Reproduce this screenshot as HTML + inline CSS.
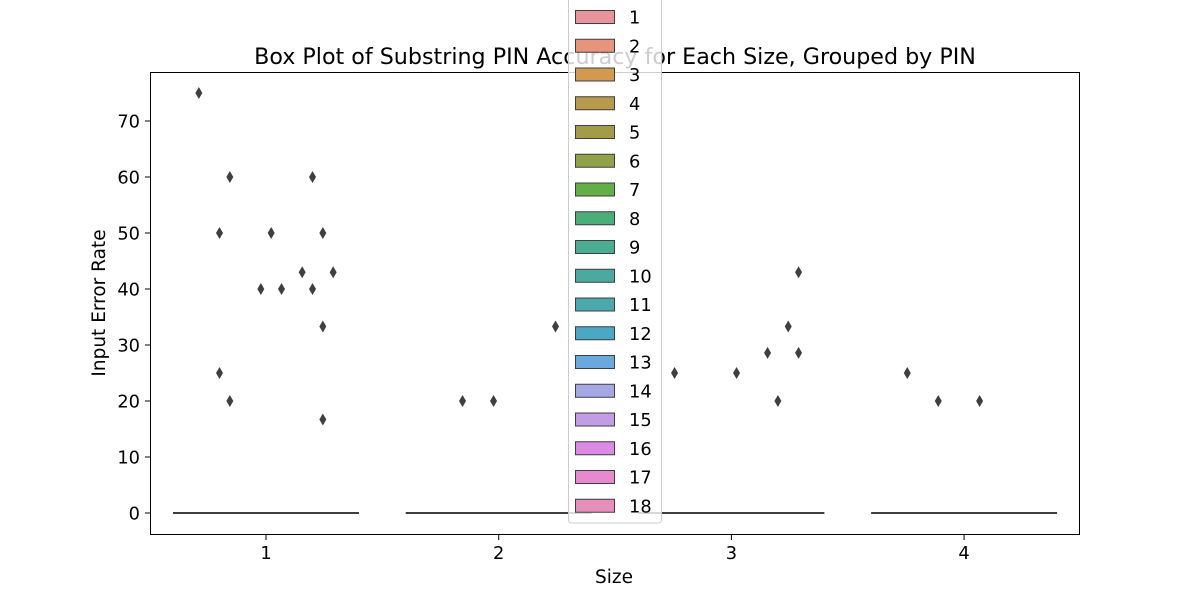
<!DOCTYPE html>
<html><head><meta charset="utf-8"><style>
body{margin:0;background:#fff;}
svg text{font-family:"DejaVu Sans","Liberation Sans",sans-serif;fill:#000;}
</style></head><body>
<svg id="chart" width="1200" height="600">
<rect width="1200" height="600" fill="#fff"/>
<text x="615" y="64" font-size="22.2" text-anchor="middle">Box Plot of Substring PIN Accuracy for Each Size, Grouped by PIN</text>
<g id="plot"></g>
<rect x="150.5" y="72.5" width="929" height="462" fill="none" stroke="#000" stroke-width="1"/>
<text x="614" y="583" font-size="18.5" text-anchor="middle">Size</text>
<text transform="translate(105,303) rotate(-90)" font-size="18.5" text-anchor="middle">Input Error Rate</text>
<g id="legend"></g>
</svg>
<script>
const categories=["1","2","3","4"];
const hues=["1","2","3","4","5","6","7","8","9","10","11","12","13","14","15","16","17","18"];
const hueColors=["#e9949d","#e8937c","#d39a4f","#b89a4c","#a29c48","#8fa347","#62ae47","#4aae78","#4aac91","#4aa9a0","#4ba9ad","#4ca7c4","#6aa9e0","#a4a9e6","#c39ce6","#dd8ae6","#e78acd","#e68fba"];
const yTicks=[0,10,20,30,40,50,60,70];
const boxMedian=[0,0,0,0];
// outliers: [categoryIndex, hueIndex, value]
const outCat=[0,0,0,0,0,0,0,0,0,0,0,0,0,0,0,1,1,1,2,2,2,2,2,2,2,3,3,3];
const outHue=[2,5,5,4,4,9,8,10,12,13,13,14,14,14,15,5,8,14,3,9,12,13,14,15,15,3,6,10];
const outVal=[75,60,20,50,25,50,40,40,43,60,40,50,33.3,16.7,43,20,20,33.3,25,25,28.6,20,33.3,43,28.6,25,20,20];

const NS="http://www.w3.org/2000/svg";
const plot=document.getElementById('plot');
const X0=266,XSTEP=232.7,Y0=513,YSCALE=5.6;
const xScale=i=>X0+i*XSTEP;
const yScale=v=>Y0-v*YSCALE;
const groupW=186,hueW=groupW/hues.length;
function mk(tag,attrs){const e=document.createElementNS(NS,tag);for(const k in attrs)e.setAttribute(k,attrs[k]);return e;}

yTicks.forEach(t=>{
  const y=yScale(t);
  const l=mk('line',{x1:145,x2:150,y1:y,y2:y,stroke:'#000'});
  
  
  plot.appendChild(l);
  const tx=mk('text',{x:140,y:y+6.5,'font-size':17.8,'text-anchor':'end'});
  tx.textContent=t;
  
  
  plot.appendChild(tx);
});
categories.forEach((c,i)=>{
  const x=xScale(i);
  const l=mk('line',{x1:x,x2:x,y1:535,y2:540,stroke:'#000'});
  
  
  plot.appendChild(l);
  const tx=mk('text',{x:x,y:559,'font-size':17.8,'text-anchor':'middle'});
  tx.textContent=c;
  
  
  plot.appendChild(tx);
  const y=yScale(boxMedian[i]);
  const b=mk('line',{x1:x-groupW/2,x2:x+groupW/2,y1:y,y2:y,stroke:'#3f3f3f','stroke-width':2});
  
  
  plot.appendChild(b);
});
outVal.forEach((v,k)=>{
  const x=xScale(outCat[k])-groupW/2+(outHue[k]+0.5)*hueW;
  const y=yScale(v);
  const p=mk('polygon',{points:`${x},${y-6} ${x+3.5},${y} ${x},${y+6} ${x-3.5},${y}`,fill:'#3f3f3f'});
  
  
  plot.appendChild(p);
});
const leg=document.getElementById('legend');
const lb=mk('rect',{x:568.5,y:-5,width:93,height:528,rx:3,fill:'#fff','fill-opacity':0.8,stroke:'#ccc'});


leg.appendChild(lb);
hues.forEach((h,i)=>{
  const y=17+i*28.75;
  const r=mk('rect',{x:575.5,y:y-6.5,width:39,height:13,fill:hueColors[i],stroke:'#3f3f3f'});
  
  
  leg.appendChild(r);
  const t=mk('text',{x:629,y:y+6.5,'font-size':17.8});
  t.textContent=h;
  
  
  leg.appendChild(t);
});
</script>
</body></html>
